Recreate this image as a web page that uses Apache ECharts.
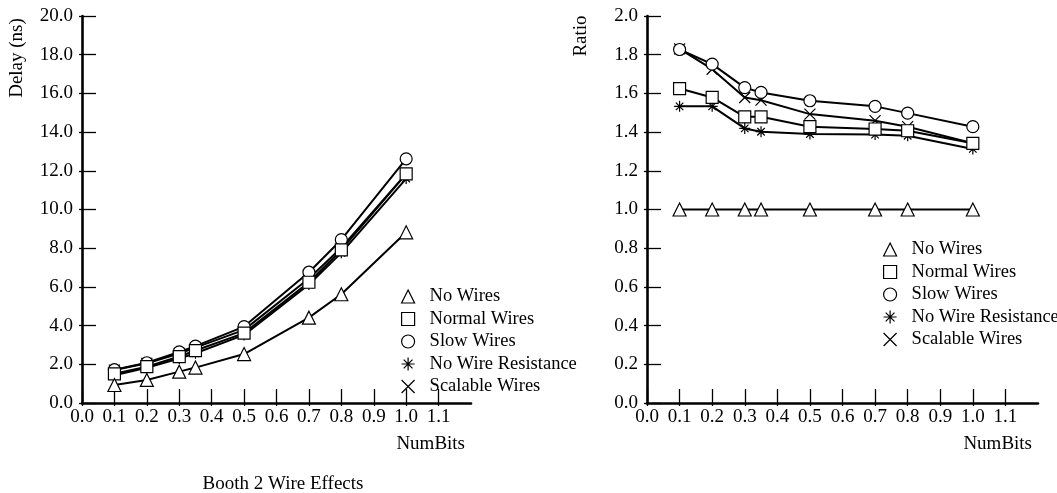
<!DOCTYPE html>
<html>
<head>
<meta charset="utf-8">
<script src="https://cdn.jsdelivr.net/npm/echarts@6/dist/echarts.min.js"></script>
<style>html,body{margin:0;padding:0;background:#fff;}#c{width:1057px;height:493px;}</style>
</head>
<body>
<div id="c"></div>
<script>
const xValues = [0.1, 0.2, 0.3, 0.35, 0.5, 0.7, 0.8, 1.0];
const seriesNames = ['No Wires', 'Normal Wires', 'Slow Wires', 'No Wire Resistance', 'Scalable Wires'];
// Delay (ns)
const delayNoWires = [0.93, 1.19, 1.62, 1.83, 2.53, 4.41, 5.62, 8.82];
const delayNormal = [1.51, 1.88, 2.40, 2.71, 3.61, 6.24, 7.91, 11.84];
const delaySlow = [1.72, 2.08, 2.64, 2.94, 3.95, 6.76, 8.44, 12.62];
const delayNoRes = [1.43, 1.82, 2.30, 2.57, 3.52, 6.12, 7.76, 11.6];
const delayScalable = [1.70, 2.05, 2.56, 2.86, 3.78, 6.43, 8.03, 11.84];
// Ratio
const ratioNoWires = [1.0, 1.0, 1.0, 1.0, 1.0, 1.0, 1.0, 1.0];
const ratioNormal = [1.625, 1.579, 1.479, 1.479, 1.428, 1.416, 1.407, 1.342];
const ratioSlow = [1.827, 1.751, 1.630, 1.605, 1.562, 1.533, 1.498, 1.428];
const ratioNoRes = [1.533, 1.533, 1.419, 1.402, 1.390, 1.387, 1.381, 1.313];
const ratioScalable = [1.830, 1.725, 1.579, 1.565, 1.493, 1.459, 1.428, 1.342];
// tick labels
const xTicks = [0.0, 0.1, 0.2, 0.3, 0.4, 0.5, 0.6, 0.7, 0.8, 0.9, 1.0, 1.1];
const delayTicks = [0, 2, 4, 6, 8, 10, 12, 14, 16, 18, 20];
const ratioTicks = [0, 0.2, 0.4, 0.6, 0.8, 1.0, 1.2, 1.4, 1.6, 1.8, 2.0];

const FONT = '"Liberation Serif", "Times New Roman", serif';
const FS = 19;
const LFS = 18.5;
const symbols = ['triangle', 'rect', 'circle',
  'path://M5,0 L5,10 M0,5 L10,5 M1.6,1.6 L8.4,8.4 M8.4,1.6 L1.6,8.4',
  'path://M0,0 L10,10 M10,0 L0,10'];
const symbolSizes = [13, 12, 12, 11, 11];

function pairs(vals) { return xValues.map((x, i) => [x, vals[i]]); }

function makeSeries(gridIdx, arrays) {
  return arrays.map((vals, i) => ({
    name: seriesNames[i],
    type: 'line',
    xAxisIndex: gridIdx, yAxisIndex: gridIdx,
    data: pairs(vals),
    symbol: symbols[i],
    symbolSize: symbolSizes[i],
    showAllSymbol: true,
    lineStyle: { color: '#000', width: 2 },
    itemStyle: { color: '#fff', borderColor: '#000', borderWidth: 1.2 },
    emphasis: { disabled: true },
    animation: false,
    z: 10 - i
  }));
}

function xAxis(gridIdx) {
  return {
    type: 'value', gridIndex: gridIdx, min: 0, max: 1.2, interval: 0.1, position: 'bottom',
    name: 'NumBits', nameLocation: 'end', nameGap: -6,
    nameTextStyle: { fontFamily: FONT, fontSize: FS, color: '#000', align: 'right', verticalAlign: 'top', padding: [32, 0, 0, 0] },
    axisLine: { show: true, onZero: false, lineStyle: { color: '#000', width: 2.6 } },
    axisTick: { show: true, inside: true, length: 14, lineStyle: { color: '#000', width: 1.3 }, customValues: xTicks },
    axisLabel: { show: true, color: '#000', fontFamily: FONT, fontSize: FS, margin: 5, customValues: xTicks, formatter: v => v.toFixed(1) },
    splitLine: { show: false }
  };
}
function xStub(gridIdx) {
  return {
    type: 'value', gridIndex: gridIdx, min: 0, max: 1.2, interval: 0.1, position: 'bottom', offset: 0,
    axisLine: { show: false, onZero: false },
    axisTick: { show: true, inside: false, length: 3, lineStyle: { color: '#000', width: 1.3 }, customValues: xTicks },
    axisLabel: { show: false }, splitLine: { show: false }
  };
}

function yAxis(gridIdx, max, interval, ticks) {
  return {
    type: 'value', gridIndex: gridIdx, min: 0, max: max, interval: interval, position: 'left',
    axisLine: { show: true, onZero: false, lineStyle: { color: '#000', width: 2.6 } },
    axisTick: { show: true, inside: true, length: 14, lineStyle: { color: '#000', width: 1.3 }, customValues: ticks },
    axisLabel: { show: true, color: '#000', fontFamily: FONT, fontSize: FS, margin: 9, customValues: ticks, formatter: v => v.toFixed(1) },
    splitLine: { show: false }
  };
}
function yStub(gridIdx, max, interval, ticks) {
  return {
    type: 'value', gridIndex: gridIdx, min: 0, max: max, interval: interval, position: 'left', offset: 0,
    axisLine: { show: false, onZero: false },
    axisTick: { show: true, inside: false, length: 3, lineStyle: { color: '#000', width: 1.3 }, customValues: ticks },
    axisLabel: { show: false }, splitLine: { show: false }
  };
}

function legend(left, top) {
  return {
    left: left, top: top, orient: 'vertical',
    itemWidth: 13, itemHeight: 13, itemGap: 3.5,
    selectedMode: false,
    data: seriesNames.map((n, i) => ({ name: n, icon: symbols[i] })),
    itemStyle: { color: '#fff', borderColor: '#000', borderWidth: 1.2 },
    textStyle: { fontFamily: FONT, fontSize: LFS, color: '#000', lineHeight: 18.5, padding: [0, 0, 0, 10] }
  };
}

const chart = echarts.init(document.getElementById('c'), null, { renderer: 'canvas' });
chart.setOption({
  backgroundColor: '#fff',
  animation: false,
  title: {
    text: 'Booth 2 Wire Effects', left: 278, top: 470, textAlign: 'center',
    textStyle: { fontFamily: FONT, fontSize: FS, fontWeight: 'normal', color: '#000' }
  },
  grid: [
    { left: 82, top: 16, width: 389, height: 387 },
    { left: 647, top: 16, width: 391, height: 387 }
  ],
  xAxis: [xAxis(0), xAxis(1), xStub(0), xStub(1)],
  yAxis: [yAxis(0, 20, 2, delayTicks), yAxis(1, 2.0, 0.2, ratioTicks), yStub(0, 20, 2, delayTicks), yStub(1, 2.0, 0.2, ratioTicks)],
  legend: [legend(396, 282), legend(878, 235)],
  series: makeSeries(0, [delayNoWires, delayNormal, delaySlow, delayNoRes, delayScalable])
    .concat(makeSeries(1, [ratioNoWires, ratioNormal, ratioSlow, ratioNoRes, ratioScalable])),
  graphic: [
    { type: 'text', x: 17, y: 58, rotation: Math.PI / 2,
      style: { text: 'Delay (ns)', fontFamily: FONT, fontSize: FS, fill: '#000', align: 'center', verticalAlign: 'middle' } },
    { type: 'text', x: 581, y: 36, rotation: Math.PI / 2,
      style: { text: 'Ratio', fontFamily: FONT, fontSize: FS, fill: '#000', align: 'center', verticalAlign: 'middle' } }
  ]
});
</script>
</body>
</html>
